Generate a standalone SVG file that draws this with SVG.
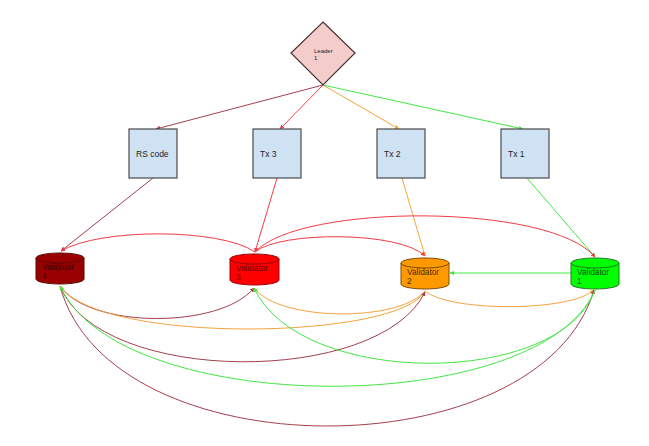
<svg xmlns="http://www.w3.org/2000/svg" width="649" height="446" viewBox="0 0 649 446">
<style>
text{font-family:"Liberation Sans",Arial,sans-serif;fill:#222}
.box{fill:#cfe2f3;stroke:#4a4a4a;stroke-width:1.2}
.lbl{font-size:8.5px}
.vl{font-size:8.3px}
.c{fill:none;stroke-width:1}
.dr{stroke:#a3404f}
.rd{stroke:#f23c44}
.or{stroke:#f5a43c}
.gr{stroke:#44e644}
</style>
<defs>
<marker id="mdr" viewBox="0 0 6 6" refX="5.5" refY="3" markerWidth="4.5" markerHeight="4.5" markerUnits="userSpaceOnUse" orient="auto"><path d="M0,0 L6,3 L0,6 Z" fill="#a3404f"/></marker>
<marker id="mrd" viewBox="0 0 6 6" refX="5.5" refY="3" markerWidth="4.5" markerHeight="4.5" markerUnits="userSpaceOnUse" orient="auto"><path d="M0,0 L6,3 L0,6 Z" fill="#f23c44"/></marker>
<marker id="mor" viewBox="0 0 6 6" refX="5.5" refY="3" markerWidth="4.5" markerHeight="4.5" markerUnits="userSpaceOnUse" orient="auto"><path d="M0,0 L6,3 L0,6 Z" fill="#f5a43c"/></marker>
<marker id="mgr" viewBox="0 0 6 6" refX="5.5" refY="3" markerWidth="4.5" markerHeight="4.5" markerUnits="userSpaceOnUse" orient="auto"><path d="M0,0 L6,3 L0,6 Z" fill="#44e644"/></marker>
</defs>
<rect width="649" height="446" fill="#fff"/>
<g id="connectors">
<path class="c dr" d="M323 85 L156 129" marker-end="url(#mdr)"/>
<path class="c rd" d="M323 85 L280 129" marker-end="url(#mrd)"/>
<path class="c or" d="M323 85 L399 129" marker-end="url(#mor)"/>
<path class="c gr" d="M323 85 L523 129" marker-end="url(#mgr)"/>
<path class="c dr" d="M153 178 L61 251" marker-end="url(#mdr)"/>
<path class="c rd" d="M277 178 L255 252" marker-end="url(#mrd)"/>
<path class="c or" d="M402 178 L425 256" marker-end="url(#mor)"/>
<path class="c gr" d="M527 178 L595 257" marker-end="url(#mgr)"/>
<path class="c rd" d="M255 252 C220 228 100 228 61 251" marker-end="url(#mrd)"/>
<path class="c rd" d="M255 252 C280 231 400 231 425 256" marker-end="url(#mrd)"/>
<path class="c rd" d="M255 252 C300 203 550 203 595 257" marker-end="url(#mrd)"/>
<path class="c gr" d="M571 273 L450 273" marker-end="url(#mgr)"/>
<path class="c dr" d="M60 286 C90 329 220 329 254 288" marker-end="url(#mdr)"/>
<path class="c or" d="M425 291 C400 340 100 345 60 286" marker-end="url(#mor)"/>
<path class="c or" d="M425 291 C400 322 280 322 254 288" marker-end="url(#mor)"/>
<path class="c or" d="M425 291 C450 312 570 312 594 290" marker-end="url(#mor)"/>
<path class="c dr" d="M60 286 C100 386 380 386 425 292" marker-end="url(#mdr)"/>
<path class="c dr" d="M60 286 C110 472 540 472 594 290" marker-end="url(#mdr)"/>
<path class="c gr" d="M595 290 C540 419 120 419 60 286" marker-end="url(#mgr)"/>
<path class="c gr" d="M595 290 C560 388 300 388 254 288" marker-end="url(#mgr)"/>
</g>
<g id="leader">
<path d="M323 22 L355 53 L323 85 L291 53 Z" fill="#f4cccc" stroke="#4a3434" stroke-width="1.2"/>
<text x="314" y="53" font-size="6">Leader</text>
<text x="314" y="60" font-size="6">1</text>
</g>
<g id="rs-code"><rect class="box" x="129" y="129" width="48" height="49"/><text class="lbl" x="136" y="157">RS code</text></g>
<g id="tx3"><rect class="box" x="253" y="129" width="48" height="49"/><text class="lbl" x="260" y="157">Tx 3</text></g>
<g id="tx2"><rect class="box" x="377" y="129" width="48" height="49"/><text class="lbl" x="384" y="157">Tx 2</text></g>
<g id="tx1"><rect class="box" x="501" y="129" width="48" height="49"/><text class="lbl" x="508" y="157">Tx 1</text></g>
<g id="validator4">
<path d="M36 258 A24 5 0 0 1 84 258 V279 A24 5 0 0 1 36 279 Z" fill="#990000" stroke="#5a0a00" stroke-width="1"/>
<path d="M36 258 A24 5 0 0 0 84 258" fill="none" stroke="#5a0a00" stroke-width="1"/>
<text class="vl" x="42" y="270" style="fill:#3a0000">Validator</text>
<text class="vl" x="42" y="279" style="fill:#3a0000">4</text>
</g>
<g id="validator3">
<path d="M230 259 A24.5 5 0 0 1 279 259 V280 A24.5 5 0 0 1 230 280 Z" fill="#ff0000" stroke="#990000" stroke-width="1"/>
<path d="M230 259 A24.5 5 0 0 0 279 259" fill="none" stroke="#990000" stroke-width="1"/>
<text class="vl" x="236" y="271" style="fill:#660000">Validator</text>
<text class="vl" x="236" y="280" style="fill:#660000">3</text>
</g>
<g id="validator2">
<path d="M401 263 A24 5 0 0 1 449 263 V284 A24 5 0 0 1 401 284 Z" fill="#ff9900" stroke="#7a4a00" stroke-width="1"/>
<path d="M401 263 A24 5 0 0 0 449 263" fill="none" stroke="#7a4a00" stroke-width="1"/>
<text class="vl" x="407" y="275" style="fill:#4a2a00">Validator</text>
<text class="vl" x="407" y="284" style="fill:#4a2a00">2</text>
</g>
<g id="validator1">
<path d="M571 263 A24 5 0 0 1 619 263 V284 A24 5 0 0 1 571 284 Z" fill="#00ff00" stroke="#1f7a1f" stroke-width="1"/>
<path d="M571 263 A24 5 0 0 0 619 263" fill="none" stroke="#1f7a1f" stroke-width="1"/>
<text class="vl" x="577" y="275" style="fill:#0a4a0a">Validator</text>
<text class="vl" x="577" y="284" style="fill:#0a4a0a">1</text>
</g>
</svg>
